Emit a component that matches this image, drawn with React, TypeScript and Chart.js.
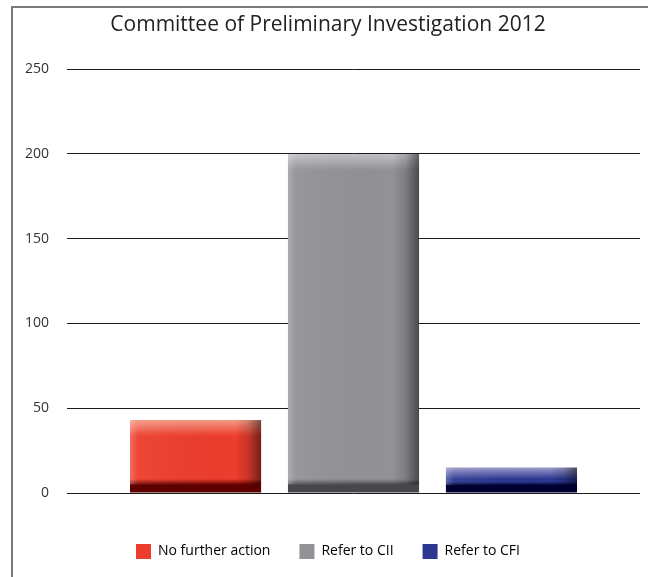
import React, { useEffect, useRef } from "react";
import { Chart, registerables } from "chart.js";

Chart.register(...registerables);

const title = "Committee of Preliminary Investigation 2012";
const categories = [""];
const seriesNames = ["No further action", "Refer to CII", "Refer to CFI"];
const seriesValues = [43, 200, 15];
const yTicks = [0, 50, 100, 150, 200, 250];

const mainColors = ["#EC3D2D", "#929196", "#2B3790"];
const topColors = ["#F59A85", "#C3C2C8", "#9C9CCB"];
const bottomColors = ["#5E0000", "#47474B", "#000030"];
const FONT = "'Open Sans', sans-serif";

const bevelPlugin = {
  id: "bevel",
  afterDatasetsDraw(chart: any) {
    const ctx = chart.ctx;
    chart.data.datasets.forEach((_d: any, i: number) => {
      const meta = chart.getDatasetMeta(i);
      meta.data.forEach((el: any) => {
        const { x, y, base, width } = el.getProps(["x", "y", "base", "width"], true);
        const left = x - width / 2;
        const h = base - y;
        const g = ctx.createLinearGradient(left, 0, left + width, 0);
        g.addColorStop(0, "rgba(255,255,255,0.25)");
        g.addColorStop(0.06, "rgba(255,255,255,0.05)");
        g.addColorStop(0.8, "rgba(0,0,0,0)");
        g.addColorStop(0.9, "rgba(0,0,0,0.15)");
        g.addColorStop(1, "rgba(0,0,0,0.5)");
        ctx.save();
        ctx.fillStyle = g;
        ctx.fillRect(left, y, width, h - Math.min(8, h * 0.3));
        ctx.restore();
      });
    });
  },
};

const frameColor = "#7a7a7a";

export default function App() {
  const ref = useRef<HTMLCanvasElement | null>(null);
  useEffect(() => {
    if (!ref.current) return;
    const chart = new Chart(ref.current, {
      type: "bar",
      data: {
        labels: categories,
        datasets: seriesNames.map((name, i) => ({
          label: name,
          data: [seriesValues[i]],
          backgroundColor: (c: any) => {
            const ch = c.chart;
            const ys = ch.scales && ch.scales.y;
            if (!ys || c.raw == null) return mainColors[i];
            const top = ys.getPixelForValue(c.raw);
            const bot = ys.getPixelForValue(0);
            const h = bot - top;
            if (!isFinite(h) || h <= 0) return mainColors[i];
            const g = ch.ctx.createLinearGradient(0, top, 0, bot);
            const t1 = Math.min(0.45, 16 / h);
            const b1 = Math.max(0.55, 1 - 14 / h);
            const b2 = Math.max(0.7, 1 - 8 / h);
            g.addColorStop(0, topColors[i]);
            g.addColorStop(t1, mainColors[i]);
            g.addColorStop(b1, mainColors[i]);
            g.addColorStop(b2, bottomColors[i]);
            g.addColorStop(1, bottomColors[i]);
            return g;
          },
          borderWidth: 0,
          categoryPercentage: 0.827,
          barPercentage: 0.83,
        })),
      },
      options: {
        animation: false,
        responsive: false,
        layout: { padding: { left: 16, right: 8, top: 0, bottom: 8 } },
        plugins: {
          title: {
            display: true,
            text: title,
            color: "#222",
            font: { family: FONT, size: 21, weight: "normal" },
            padding: { top: 12, bottom: 32 },
          },
          legend: {
            position: "bottom",
            labels: {
              color: "#333",
              font: { family: FONT, size: 14 },
              boxWidth: 15,
              boxHeight: 15,
              padding: 29,
              generateLabels: () =>
                seriesNames.map((n, i) => ({
                  text: n,
                  fillStyle: mainColors[i],
                  strokeStyle: mainColors[i],
                  lineWidth: 0,
                  datasetIndex: i,
                  hidden: false,
                })),
            },
          },
          tooltip: { enabled: false },
        },
        scales: {
          x: {
            grid: { display: false, drawTicks: false },
            border: { display: false },
            ticks: { display: false },
            afterFit: (s: any) => {
              s.height = 22;
            },
          },
          y: {
            min: 0,
            max: 250,
            afterBuildTicks: (s: any) => {
              s.ticks = yTicks.map((v) => ({ value: v }));
            },
            grid: { color: "#1a1a1a", lineWidth: 1, drawTicks: false },
            border: { display: false },
            ticks: {
              color: "#333",
              font: { family: FONT, size: 14 },
              padding: 18,
            },
            afterFit: (s: any) => {
              s.width = 51;
            },
          },
        },
      },
      plugins: [bevelPlugin],
    });
    return () => chart.destroy();
  }, []);

  return (
    <div style={{ position: "absolute", left: 0, top: 0, width: 648, height: 577, background: "#fff" }}>
      <canvas ref={ref} width={648} height={577} style={{ position: "absolute", left: 0, top: 0 }} />
      <div
        style={{
          position: "absolute",
          left: 11,
          top: 6,
          width: 637,
          height: 571,
          borderLeft: `2px solid ${frameColor}`,
          borderTop: `2px solid ${frameColor}`,
          boxSizing: "border-box",
          pointerEvents: "none",
        }}
      />
    </div>
  );
}
